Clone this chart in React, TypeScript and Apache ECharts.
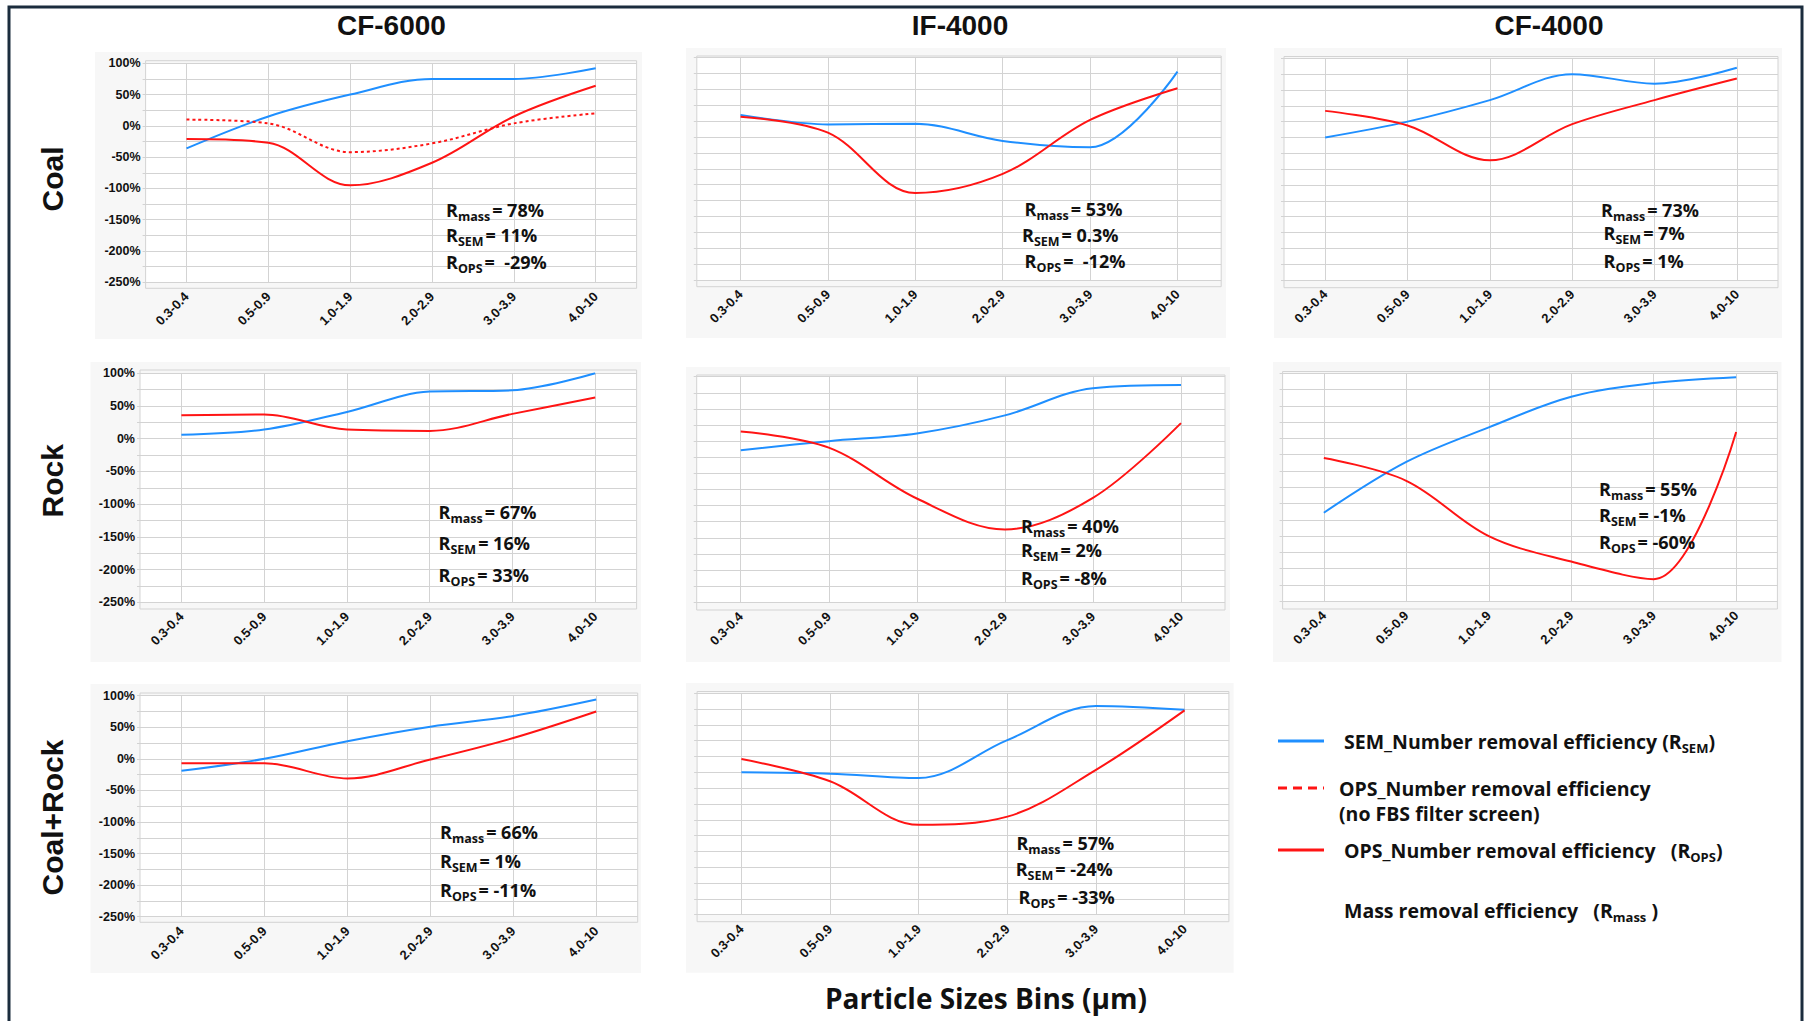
import React, { useEffect, useRef } from "react";
import * as echarts from "echarts";

// Particle size bins (µm)
const sizeBins = ["0.3-0.4", "0.5-0.9", "1.0-1.9", "2.0-2.9", "3.0-3.9", "4.0-10"];

// SEM number removal efficiency (%)
const semCoalCF6000 = [-36, 15, 50, 75, 75, 92];
const semCoalIF4000 = [10, -5, -4, -31, -41, 78];
const semCoalCF4000 = [-25, 0, 34, 75, 60, 85];
const semRockCF6000 = [6, 14, 41, 72, 74, 100];
const semRockIF4000 = [-14, 0, 12, 40, 82, 87];
const semRockCF4000 = [-114, -36, 17, 64, 85, 94];
const semMixCF6000 = [-19, 0, 28, 51, 68, 94];
const semMixIF4000 = [-25, -27, -34, 26, 80, 74];

// OPS number removal efficiency (%)
const opsCoalCF6000 = [-21, -27, -95, -59, 15, 64];
const opsCoalIF4000 = [7, -18, -113, -83, 2, 52];
const opsCoalCF4000 = [17, -6, -61, -4, 34, 68];
const opsRockCF6000 = [36, 37, 14, 12, 38, 63];
const opsRockIF4000 = [15, -10, -89, -137, -88, 28];
const opsRockCF4000 = [-30, -65, -150, -189, -216, 10];
const opsMixCF6000 = [-7, -7, -31, -1, 33, 75];
const opsMixIF4000 = [-4, -39, -108, -95, -21, 73];

// OPS number removal efficiency without the FBS filter screen (%)
const opsNoScreenCoalCF6000 = [10, 4, -42, -28, 4, 20];

// Overall efficiencies per panel (CF-6000 coal, IF-4000 coal, CF-4000 coal, rock ..., coal+rock ...)
const rMass = ["78%", "53%", "73%", "67%", "40%", "55%", "66%", "57%"];
const rSem = ["11%", "0.3%", "7%", "16%", "2%", "-1%", "1%", "-24%"];
const rOps = [" -29%", " -12%", "1%", "33%", "-8%", "-60%", "-11%", "-33%"];

const columnTitles = ["CF-6000", "IF-4000", "CF-4000"];
const rowTitles = ["Coal", "Rock", "Coal+Rock"];

const yTickMin = -250;
const yTickMax = 100;
const yTickStep = 25;

const panelSeries = [
  { sem: semCoalCF6000, ops: opsCoalCF6000, opsNoScreen: opsNoScreenCoalCF6000 },
  { sem: semCoalIF4000, ops: opsCoalIF4000 },
  { sem: semCoalCF4000, ops: opsCoalCF4000 },
  { sem: semRockCF6000, ops: opsRockCF6000 },
  { sem: semRockIF4000, ops: opsRockIF4000 },
  { sem: semRockCF4000, ops: opsRockCF4000 },
  { sem: semMixCF6000, ops: opsMixCF6000 },
  { sem: semMixIF4000, ops: opsMixIF4000 },
];

// Layout of each small chart: background box, plot x-range, y of top/bottom ticks,
// plot frame extents, and the anchor of the efficiency note.
type Layout = {
  bg: [number, number, number, number];
  x0: number;
  x1: number;
  yTop: number;
  yBot: number;
  fTop: number;
  fBot: number;
  yLabels: boolean;
  noteX: [number, number, number];
  noteY: [number, number, number];
};

const layouts: Layout[] = [
  { bg: [95, 52, 642, 339], x0: 145.6, x1: 636.6, yTop: 63.3, yBot: 282.3, fTop: 60.7, fBot: 288.3, yLabels: true, noteX: [446, 446, 446], noteY: [210, 235, 262] },
  { bg: [686, 48, 1226, 338], x0: 696.8, x1: 1221.2, yTop: 57.7, yBot: 280, fTop: 56, fBot: 286.7, yLabels: false, noteX: [1024.6, 1022, 1024.6], noteY: [209, 235, 261] },
  { bg: [1274, 48, 1782, 338], x0: 1284, x1: 1778, yTop: 58.3, yBot: 280, fTop: 56.5, fBot: 287.7, yLabels: false, noteX: [1601, 1603.6, 1603.6], noteY: [210, 233, 260.7] },
  { bg: [90.5, 362, 641, 662], x0: 140, x1: 636.6, yTop: 373.3, yBot: 602.3, fTop: 370, fBot: 609, yLabels: true, noteX: [438.6, 438.6, 438.6], noteY: [512.3, 542.7, 575] },
  { bg: [686, 367, 1230, 662], x0: 696.7, x1: 1225, yTop: 376.7, yBot: 602.3, fTop: 375, fBot: 610, yLabels: false, noteX: [1021, 1021, 1021], noteY: [525.7, 550, 578.3] },
  { bg: [1273, 362, 1781.5, 662], x0: 1282.6, x1: 1777.4, yTop: 373.3, yBot: 601.3, fTop: 371.5, fBot: 609, yLabels: false, noteX: [1599, 1599, 1599], noteY: [489.3, 515, 542.3] },
  { bg: [90.5, 684, 641, 973], x0: 140, x1: 637.7, yTop: 695.7, yBot: 916.7, fTop: 693, fBot: 922.3, yLabels: true, noteX: [440, 440, 440], noteY: [832.3, 861, 890] },
  { bg: [686, 683, 1233.6, 972.7], x0: 697.1, x1: 1228.9, yTop: 693.3, yBot: 914.7, fTop: 691.5, fBot: 921.7, yLabels: false, noteX: [1016.4, 1015.7, 1018.6], noteY: [842.7, 869, 896.7] },
];

const titleX = [391.4, 960, 1549];
const rowLabelY = [179, 480.8, 817.5];

const SEM_BLUE = "#1f8fff";
const OPS_RED = "#ff1414";
const GRID_GREY = "#d3d3d3";
const TEXT = "#111111";
const FONT_AXIS = '"Liberation Sans", Arial, sans-serif';
const FONT_UI = '"Open Sans", "Noto Sans", sans-serif';
const SMOOTH = 0.35;

const noteRich = {
  r: { fontFamily: FONT_UI, fontWeight: 700, fontSize: 18, lineHeight: 26, verticalAlign: "middle", fill: TEXT },
  q: { fontFamily: FONT_UI, fontWeight: 700, fontSize: 18, lineHeight: 26, verticalAlign: "middle", fill: TEXT, padding: [0, 0, 0, 2] },
  s: { fontFamily: FONT_UI, fontWeight: 700, fontSize: 12.5, lineHeight: 14, verticalAlign: "bottom", fill: TEXT },
};

const legendRich = {
  t: { fontFamily: FONT_UI, fontWeight: 700, fontSize: 19.5, lineHeight: 26, verticalAlign: "middle", fill: TEXT },
  s: { fontFamily: FONT_UI, fontWeight: 700, fontSize: 13, lineHeight: 14, verticalAlign: "bottom", fill: TEXT },
};

function buildOption() {
  const grids: any[] = [];
  const xAxes: any[] = [];
  const yAxes: any[] = [];
  const series: any[] = [];
  const graphics: any[] = [];

  // outer frame
  graphics.push({
    type: "rect",
    z: 5,
    shape: { x: 9, y: 7, width: 1793, height: 1100 },
    style: { fill: "none", stroke: "#1b2c3d", lineWidth: 3 },
  });

  layouts.forEach((L, i) => {
    const data = panelSeries[i];
    grids.push({
      left: L.x0,
      top: L.yTop,
      width: L.x1 - L.x0,
      height: L.yBot - L.yTop,
      show: true,
      backgroundColor: "#ffffff",
      borderWidth: 0,
      containLabel: false,
      outerBoundsMode: "none",
    });
    xAxes.push({
      type: "category",
      gridIndex: i,
      data: sizeBins,
      boundaryGap: true,
      axisLine: { show: false },
      axisTick: { show: false, alignWithLabel: true },
      splitLine: { show: true, interval: 0, alignWithLabel: true, lineStyle: { color: GRID_GREY, width: 1 } },
      axisLabel: {
        interval: 0,
        rotate: 45,
        margin: 12,
        fontFamily: FONT_AXIS,
        fontWeight: "bold",
        fontSize: 13,
        color: TEXT,
      },
    });
    yAxes.push({
      type: "value",
      gridIndex: i,
      min: yTickMin,
      max: yTickMax,
      interval: yTickStep,
      axisLine: { show: false },
      axisTick: { show: true, length: 3, lineStyle: { color: GRID_GREY } },
      splitLine: { show: true, lineStyle: { color: GRID_GREY, width: 1 } },
      axisLabel: {
        show: L.yLabels,
        margin: 5,
        fontFamily: FONT_AXIS,
        fontWeight: "bold",
        fontSize: 12.5,
        color: TEXT,
        formatter: (v: number) => (v % 50 === 0 ? `${v}%` : ""),
      },
    });

    series.push({
      name: "SEM_Number removal efficiency",
      type: "line",
      xAxisIndex: i,
      yAxisIndex: i,
      data: data.sem,
      smooth: SMOOTH,
      symbol: "none",
      lineStyle: { color: SEM_BLUE, width: 2 },
      z: 3,
    });
    if (data.opsNoScreen) {
      series.push({
        name: "OPS_Number removal efficiency (no FBS filter screen)",
        type: "line",
        xAxisIndex: i,
        yAxisIndex: i,
        data: data.opsNoScreen,
        smooth: SMOOTH,
        symbol: "none",
        lineStyle: { color: OPS_RED, width: 2, type: [3, 3] },
        z: 3,
      });
    }
    series.push({
      name: "OPS_Number removal efficiency",
      type: "line",
      xAxisIndex: i,
      yAxisIndex: i,
      data: data.ops,
      smooth: SMOOTH,
      symbol: "none",
      lineStyle: { color: OPS_RED, width: 2 },
      z: 4,
    });

    // panel background
    graphics.push({
      type: "rect",
      z: -1,
      shape: { x: L.bg[0], y: L.bg[1], width: L.bg[2] - L.bg[0], height: L.bg[3] - L.bg[1] },
      style: { fill: "#f7f7f7" },
      silent: true,
    });
    // plot frame
    graphics.push({
      type: "rect",
      z: 1,
      shape: { x: L.x0, y: L.fTop, width: L.x1 - L.x0, height: L.fBot - L.fTop },
      style: { fill: "none", stroke: GRID_GREY, lineWidth: 1 },
      silent: true,
    });
    // efficiency note
    const lines = [
      `{r|R}{s|mass}{q|= ${rMass[i]}}`,
      `{r|R}{s|SEM}{q|= ${rSem[i]}}`,
      `{r|R}{s|OPS}{q|= ${rOps[i]}}`,
    ];
    lines.forEach((t, k) => {
      graphics.push({
        type: "text",
        z: 10,
        x: L.noteX[k],
        y: L.noteY[k],
        style: { text: t, rich: noteRich, verticalAlign: "middle", align: "left" },
      });
    });
  });

  // column titles
  columnTitles.forEach((t, c) => {
    graphics.push({
      type: "text",
      z: 10,
      x: titleX[c],
      y: 25,
      style: {
        text: t,
        font: `bold 28px ${FONT_AXIS}`,
        fill: TEXT,
        align: "center",
        verticalAlign: "middle",
      },
    });
  });

  // row titles
  rowTitles.forEach((t, r) => {
    graphics.push({
      type: "text",
      z: 10,
      x: 52.6,
      y: rowLabelY[r],
      rotation: Math.PI / 2,
      style: {
        text: t,
        font: `bold 30px ${FONT_AXIS}`,
        fill: TEXT,
        align: "center",
        verticalAlign: "middle",
      },
    });
  });

  // shared x-axis title
  graphics.push({
    type: "text",
    z: 10,
    x: 986,
    y: 998,
    style: {
      text: "Particle Sizes Bins (µm)",
      font: `700 28px ${FONT_UI}`,
      fill: TEXT,
      align: "center",
      verticalAlign: "middle",
    },
  });

  // legend
  graphics.push(
    {
      type: "line",
      z: 10,
      shape: { x1: 1278, y1: 741, x2: 1324, y2: 741 },
      style: { stroke: SEM_BLUE, lineWidth: 3 },
    },
    {
      type: "text",
      z: 10,
      x: 1344,
      y: 741,
      style: { text: "{t|SEM_Number removal efficiency (R}{s|SEM}{t|)}", rich: legendRich, verticalAlign: "middle" },
    },
    {
      type: "line",
      z: 10,
      shape: { x1: 1278, y1: 788, x2: 1324, y2: 788 },
      style: { stroke: OPS_RED, lineWidth: 3, lineDash: [9, 6] },
    },
    {
      type: "text",
      z: 10,
      x: 1339,
      y: 788,
      style: { text: "{t|OPS_Number removal efficiency}", rich: legendRich, verticalAlign: "middle" },
    },
    {
      type: "text",
      z: 10,
      x: 1339,
      y: 813,
      style: { text: "{t|(no FBS filter screen)}", rich: legendRich, verticalAlign: "middle" },
    },
    {
      type: "line",
      z: 10,
      shape: { x1: 1278, y1: 850, x2: 1324, y2: 850 },
      style: { stroke: OPS_RED, lineWidth: 3 },
    },
    {
      type: "text",
      z: 10,
      x: 1344,
      y: 850,
      style: { text: "{t|OPS_Number removal efficiency   (R}{s|OPS}{t|)}", rich: legendRich, verticalAlign: "middle" },
    },
    {
      type: "text",
      z: 10,
      x: 1344,
      y: 910,
      style: { text: "{t|Mass removal efficiency   (R}{s|mass}{t| )}", rich: legendRich, verticalAlign: "middle" },
    }
  );

  return {
    animation: false,
    backgroundColor: "#ffffff",
    grid: grids,
    xAxis: xAxes,
    yAxis: yAxes,
    series,
    graphic: { elements: graphics },
  };
}

export default function App() {
  const ref = useRef<HTMLDivElement>(null);
  useEffect(() => {
    if (!ref.current) return;
    const chart = echarts.init(ref.current, undefined, { renderer: "svg" });
    chart.setOption(buildOption() as any);
    return () => chart.dispose();
  }, []);
  return (
    <div
      ref={ref}
      style={{ position: "absolute", left: 0, top: 0, width: 1807, height: 1021 }}
    />
  );
}
